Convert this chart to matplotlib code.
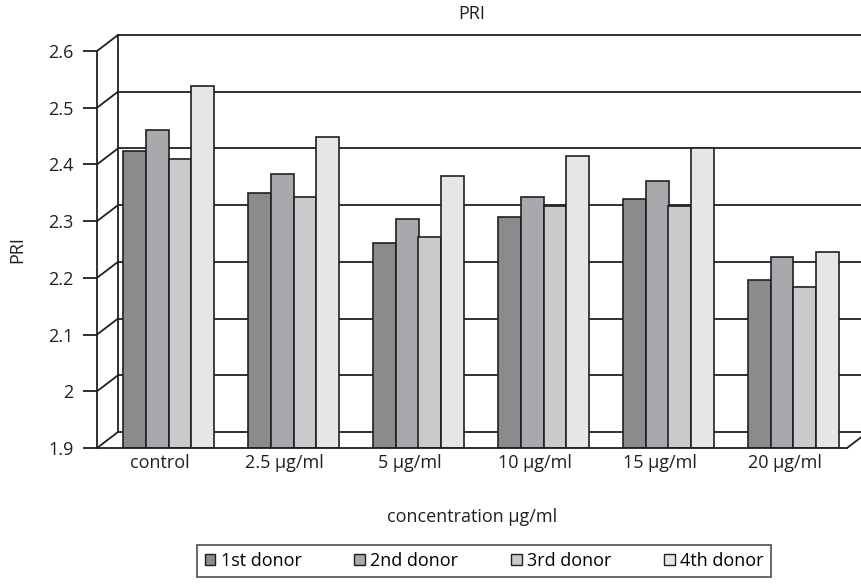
import numpy as np
import matplotlib
matplotlib.use("Agg")
import matplotlib.pyplot as plt
import matplotlib.transforms as mtransforms
from matplotlib.patches import Patch

plt.rcParams['font.family'] = ['Open Sans', 'DejaVu Sans']
fs = 13

# data
categories = ['control', '2.5 µg/ml', '5 µg/ml', '10 µg/ml', '15 µg/ml', '20 µg/ml']
donor_1 = [2.424, 2.349, 2.261, 2.307, 2.339, 2.197]
donor_2 = [2.461, 2.383, 2.303, 2.343, 2.370, 2.236]
donor_3 = [2.410, 2.342, 2.272, 2.327, 2.327, 2.184]
donor_4 = [2.539, 2.448, 2.379, 2.414, 2.429, 2.246]
series_names = ['1st donor', '2nd donor', '3rd donor', '4th donor']
y_ticks = [1.9, 2.0, 2.1, 2.2, 2.3, 2.4, 2.5, 2.6]
y_ticklabels = ['1.9', '2', '2.1', '2.2', '2.3', '2.4', '2.5', '2.6']

colors = ['#8a8b8d', '#a8a9ac', '#c9cacc', '#e5e6e7']
edge = '#231f20'
W, H = 861, 588

fig = plt.figure(figsize=(W / 100, H / 100), dpi=100)
ax = fig.add_axes([97 / W, (H - 448) / H, 750 / W, 397 / H])
ax.set_xlim(-0.5, len(categories) - 0.5)
ax.set_ylim(1.9, 2.6)

# back wall is an offset copy of the front plane
back = mtransforms.offset_copy(ax.transData, fig=fig, x=21, y=16, units='dots')
x0, x1 = -0.5, len(categories) - 0.5
lw = 1.3
for v in y_ticks:
    ax.plot([x0, x1], [v, v], color=edge, lw=lw, transform=back, clip_on=False, zorder=1)
    # diagonal from front axis to back wall
    ax.annotate('', xy=(x0, v), xycoords=back, xytext=(x0, v), textcoords='data',
                arrowprops=dict(arrowstyle='-', color=edge, lw=lw, shrinkA=0, shrinkB=0),
                zorder=1)
ax.plot([x0, x0], [1.9, 2.6], color=edge, lw=lw, transform=back, clip_on=False, zorder=1)
# front floor edge and right corner
ax.plot([x0, x1], [1.9, 1.9], color=edge, lw=lw, clip_on=False, zorder=4)
ax.annotate('', xy=(x1, 1.9), xycoords=back, xytext=(x1, 1.9), textcoords='data',
            arrowprops=dict(arrowstyle='-', color=edge, lw=lw, shrinkA=0, shrinkB=0))

# bars
x = np.arange(len(categories))
bw = 0.183
shift = 0.072
for k, vals in enumerate([donor_1, donor_2, donor_3, donor_4]):
    ax.bar(x + shift + (k - 1.5) * bw, np.array(vals) - 1.9, bw, bottom=1.9,
           color=colors[k], edgecolor=edge, linewidth=1.2, zorder=3)

for s in ['top', 'right', 'bottom']:
    ax.spines[s].set_visible(False)
ax.spines['left'].set_linewidth(lw)
ax.spines['left'].set_color(edge)
ax.patch.set_visible(False)

ax.set_yticks(y_ticks)
ax.set_yticklabels(y_ticklabels)
ax.tick_params(axis='y', length=10, width=lw, color=edge, pad=7, labelsize=fs, labelcolor=edge)
ax.set_xticks(x)
ax.set_xticklabels(categories)
ax.tick_params(axis='x', length=0, pad=4, labelsize=fs, labelcolor=edge)

ax.set_xlabel('concentration µg/ml', fontsize=fs, labelpad=26, color=edge)
fig.text(17 / W, 1 - 250 / H, 'PRI', rotation=90, ha='center', va='center', fontsize=fs, color=edge)
fig.text(472 / W, 1 - 14 / H, 'PRI', ha='center', va='center', fontsize=fs, color=edge)

handles = [Patch(facecolor=c, edgecolor=edge, linewidth=1.0) for c in colors]
leg = fig.legend(handles, series_names, loc='center', bbox_to_anchor=(484 / W, 1 - 561 / H),
                 ncol=4, frameon=True, fancybox=False, fontsize=fs,
                 handlelength=0.6, handleheight=0.6, handletextpad=0.3, columnspacing=2.9,
                 borderpad=0.4)
leg.get_frame().set_edgecolor(edge)
leg.get_frame().set_linewidth(1.2)

fig.savefig('out.png', dpi=100)
